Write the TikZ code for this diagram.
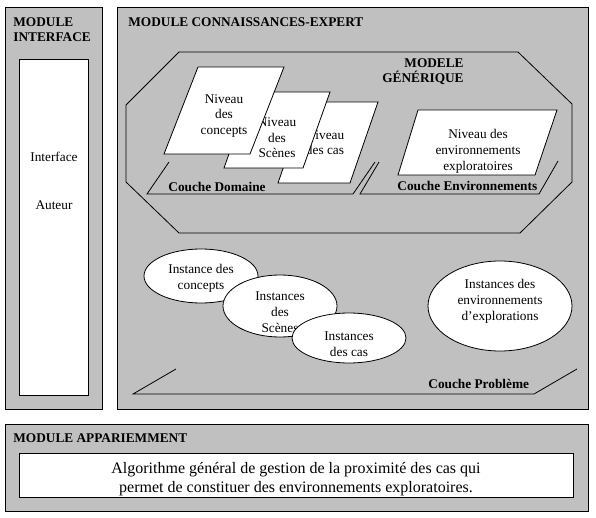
\documentclass[tikz,border=0pt]{standalone}
\usepackage{fontspec}
\setmainfont{Liberation Serif}
\usetikzlibrary{shapes.geometric, positioning}
\definecolor{silver}{HTML}{C0C0C0}

\begin{document}
\begin{tikzpicture}[x=1pt, y=-1pt, line width=0.8pt,
    every node/.style={font=\fontsize{13.3}{15.5}\selectfont, inner sep=0pt, align=center},
    module/.style={draw, fill=silver},
    boite/.style={draw, fill=white},
    titre/.style={font=\fontsize{13.3}{15}\selectfont\bfseries, anchor=west, align=left},
    couche/.style={font=\fontsize{13.3}{15}\selectfont\bfseries, anchor=west},
    inst/.style={draw, fill=white, ellipse}]
                \useasboundingbox (0,0) rectangle (596,518);

                % Modules
                \draw[module] (5,7) rectangle (102,409);
                \draw[module] (117,7) rectangle (588,409);
                \draw[module] (5,424) rectangle (588,511);
                \draw[boite] (19,59) rectangle (88,395);
                \draw[boite] (19,453) rectangle (573,497);
                \node[titre] (tinterface) at (13,29.5) {MODULE\\INTERFACE};
                \node[titre] (texpert) at (128,22) {MODULE CONNAISSANCES-EXPERT};
                \node[titre] (tappariement) at (13,438) {MODULE APPARIEMMENT};
                \node (interface) at (54,157) {Interface};
                \node (auteur) at (54,205) {Auteur};
                \node[font=\fontsize{16}{19}\selectfont] (algo) at (296,479.5) {Algorithme général de gestion de la proximité des cas qui\\permet de constituer des environnements exploratoires.};

                % Modele generique
                \draw (179,52) -- (518,52) -- (572,104) -- (572,182) -- (520,233) -- (179,233) -- (126,182) -- (126,105) -- cycle;
                \node[titre, anchor=east, align=right] (tgenerique) at (464,72) {MODELE\\GÉNÉRIQUE};

                % Couches
                \draw (169,162) -- (147,194) -- (353,194) -- (375,162);
                \draw (379,162) -- (360,194) -- (539,194) -- (558,161);
                \draw (176,369) -- (133,394) -- (534,394) -- (577,369);
                \node[couche] (cdomaine) at (168,187) {Couche Domaine};
                \node[couche] (cenv) at (397,186) {Couche Environnements};
                \node[couche] (cprobleme) at (428,384) {Couche Problème};

                % Niveaux
                \draw[boite] (278,183) -- (350,183) -- (378,102) -- (306,102) -- cycle;
                \node (ncas) at (325,142.5) {Niveau\\des cas};
                \draw[boite] (224,168) -- (303,168) -- (330,92) -- (251,92) -- cycle;
                \node (nscenes) at (277,138) {Niveau\\des\\Scènes};
                \draw[boite] (164,154) -- (250,154) -- (284,67) -- (198,67) -- cycle;
                \node (nconcepts) at (224,116) {Niveau\\des\\concepts};
                \draw[boite] (398,175) -- (535,175) -- (557,110) -- (418,110) -- cycle;
                \node[font=\fontsize{13.3}{16}\selectfont] (nenv) at (478,151) {Niveau des\\environnements\\exploratoires};

                % Instances
                \node[inst, minimum width=114, minimum height=54] (iconcepts) at (201,276) {};
                \node[font=\fontsize{13.3}{16}\selectfont] (ticoncepts) at (201,278) {Instance des\\concepts};
                \node[inst, minimum width=114, minimum height=62] (iscenes) at (280,306) {};
                \node[font=\fontsize{13.3}{16}\selectfont] (tiscenes) at (280,312) {Instances\\des\\Scènes};
                \node[inst, minimum width=114, minimum height=50] (icas) at (349,338) {};
                \node[font=\fontsize{13.3}{16}\selectfont] (ticas) at (349,344) {Instances\\des cas};
                \node[inst, minimum width=144, minimum height=90] (ienv) at (500,306) {};
                \node[font=\fontsize{13.3}{16}\selectfont] (tienv) at (500,301) {Instances des\\environnements\\d’explorations};
            \end{tikzpicture}
\end{document}
